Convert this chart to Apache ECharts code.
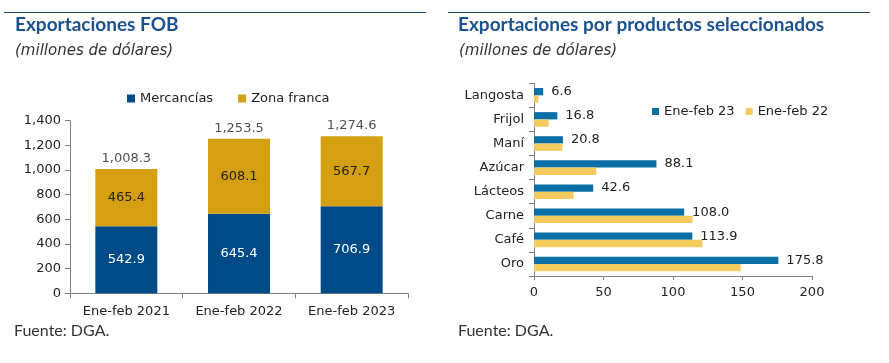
<!DOCTYPE html>
<html><head><meta charset="utf-8">
<script src="https://cdn.jsdelivr.net/npm/echarts@6/dist/echarts.min.js"></script>
<style>html,body{margin:0;padding:0;background:#fff}#c{width:889px;height:363px}</style>
</head><body><div id="c"></div>
<script>
// Left chart data
const periods = ['Ene-feb 2021', 'Ene-feb 2022', 'Ene-feb 2023'];
const mercancias = [542.9, 645.4, 706.9];
const zonaFranca = [465.4, 608.1, 567.7];
const totals = [1008.3, 1253.5, 1274.6];
const leftTicks = [0, 200, 400, 600, 800, 1000, 1200, 1400];

// Right chart data
const products = ['Langosta', 'Frijol', 'Maní', 'Azúcar', 'Lácteos', 'Carne', 'Café', 'Oro'];
const eneFeb23 = [6.6, 16.8, 20.8, 88.1, 42.6, 108.0, 113.9, 175.8];
const eneFeb22 = [3.1, 10.6, 20.4, 44.8, 28.5, 114.1, 121.1, 148.7];
const rightTicks = [0, 50, 100, 150, 200];

const chart = echarts.init(document.getElementById('c'));
const FONT = 'DejaVu Sans';
const TFONT = 'Lato';
const titleColor = '#1a5291';
const axisCol = '#808080';
const fmt = v => v.toLocaleString('en-US', {minimumFractionDigits: 1, maximumFractionDigits: 1});

const tTitle = {fontFamily: TFONT, fontWeight: 'bold', fontSize: 19, color: titleColor};
const tSub = {fontFamily: FONT, fontStyle: 'italic', fontWeight: 'normal', fontSize: 15, color: '#333'};
const tSrc = {fontFamily: TFONT, fontWeight: 'normal', fontSize: 16, color: '#333'};

chart.setOption({
  animation: false,
  textStyle: {fontFamily: FONT},
  title: [
    {text: 'Exportaciones FOB', left: 15, top: 15, padding: 0, textStyle: tTitle},
    {text: '(millones de dólares)', left: 15, top: 44, padding: 0, textStyle: tSub},
    {text: 'Fuente: DGA.', left: 14, top: 323, padding: 0, textStyle: tSrc},
    {text: 'Exportaciones por productos seleccionados', left: 458, top: 15, padding: 0, textStyle: tTitle},
    {text: '(millones de dólares)', left: 459, top: 44, padding: 0, textStyle: tSub},
    {text: 'Fuente: DGA.', left: 458, top: 323, padding: 0, textStyle: tSrc}
  ],
  graphic: [
    {type: 'line', shape: {x1: 4, y1: 12.5, x2: 426, y2: 12.5}, style: {stroke: '#1f4e79', lineWidth: 1}},
    {type: 'line', shape: {x1: 448, y1: 12.5, x2: 870, y2: 12.5}, style: {stroke: '#1f4e79', lineWidth: 1}}
  ],
  legend: [
    {data: ['Mercancías', 'Zona franca'], left: 122, top: 87, itemWidth: 8, itemHeight: 8, itemGap: 25, icon: 'rect',
     textStyle: {fontFamily: FONT, fontSize: 13, color: '#222'}},
    {data: ['Ene-feb 23', 'Ene-feb 22'], left: 647, top: 100, itemWidth: 7, itemHeight: 7, itemGap: 11, icon: 'rect',
     textStyle: {fontFamily: FONT, fontSize: 13, color: '#222'}}
  ],
  grid: [
    {left: 70, right: 481, top: 120.7, bottom: 69.7},
    {left: 534, right: 77, top: 83.3, bottom: 87}
  ],
  xAxis: [
    {type: 'category', gridIndex: 0, data: periods,
     axisLine: {lineStyle: {color: axisCol}}, axisTick: {show: true, length: 5, lineStyle: {color: axisCol}},
     axisLabel: {fontSize: 13, color: '#222', margin: 12, interval: 0}},
    {type: 'value', gridIndex: 1, min: rightTicks[0], max: rightTicks[rightTicks.length - 1], interval: 50,
     splitLine: {show: false}, axisLine: {show: true, lineStyle: {color: axisCol}},
     axisTick: {show: true, length: 4, lineStyle: {color: axisCol}},
     axisLabel: {fontSize: 13, color: '#222', margin: 10}}
  ],
  yAxis: [
    {type: 'value', gridIndex: 0, min: leftTicks[0], max: leftTicks[leftTicks.length - 1], interval: 200,
     splitLine: {show: false}, axisLine: {show: true, lineStyle: {color: axisCol}},
     axisTick: {show: true, length: 5, lineStyle: {color: axisCol}},
     axisLabel: {fontSize: 13, color: '#222', margin: 9, formatter: v => v.toLocaleString('en-US')}},
    {type: 'category', gridIndex: 1, data: products, inverse: true,
     axisLine: {lineStyle: {color: axisCol}}, axisTick: {show: true, length: 5, lineStyle: {color: axisCol}},
     axisLabel: {fontSize: 13, color: '#222', margin: 10, interval: 0}}
  ],
  series: [
    {name: 'Mercancías', type: 'bar', stack: 'a', xAxisIndex: 0, yAxisIndex: 0, data: mercancias, barWidth: '55%',
     itemStyle: {color: '#004a87'},
     label: {show: true, position: 'inside', color: '#fff', fontSize: 13, formatter: p => fmt(p.value)}},
    {name: 'Zona franca', type: 'bar', stack: 'a', xAxisIndex: 0, yAxisIndex: 0, data: zonaFranca, barWidth: '55%',
     itemStyle: {color: '#d4a012'},
     label: {show: true, position: 'inside', color: '#222', fontSize: 13, formatter: p => fmt(p.value)}},
    {name: 'Total', type: 'scatter', xAxisIndex: 0, yAxisIndex: 0, data: totals, symbolSize: 0, silent: true,
     label: {show: true, position: 'top', distance: 4, color: '#222', fontSize: 13, formatter: p => fmt(p.value)}},
    {name: 'Ene-feb 23', type: 'bar', xAxisIndex: 1, yAxisIndex: 1, data: eneFeb23, barWidth: 7.3, barGap: '0%',
     itemStyle: {color: '#0a6fa6'},
     label: {show: true, position: 'right', distance: 8, color: '#222', fontSize: 13, formatter: p => fmt(p.value)}},
    {name: 'Ene-feb 22', type: 'bar', xAxisIndex: 1, yAxisIndex: 1, data: eneFeb22, barWidth: 7.3, barGap: '0%',
     itemStyle: {color: '#f4cb5f'}}
  ]
});
</script></body></html>
